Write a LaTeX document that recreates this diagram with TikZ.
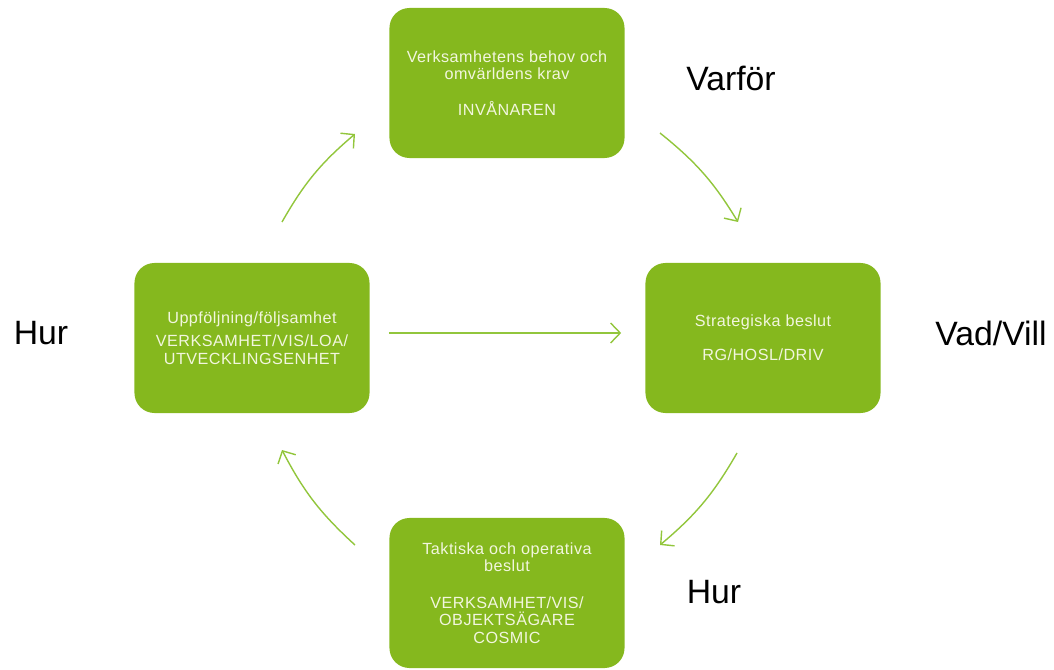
\documentclass[tikz,border=0pt]{standalone}
\usepackage{fontspec}
\setmainfont{Liberation Sans}
\newfontfamily\boxfont[LetterSpace=3]{Liberation Sans}
\usetikzlibrary{arrows.meta,positioning}

\definecolor{boxgreen}{RGB}{133,184,30}
\definecolor{arrowgreen}{RGB}{146,198,60}
\definecolor{boxtext}{RGB}{242,246,222}

\begin{document}
\begin{tikzpicture}[x=0.025cm,y=-0.025cm,
  stage/.style={fill=boxgreen, rounded corners=0.5cm, minimum width=5.875cm,
    minimum height=3.75cm, inner sep=0pt, text=boxtext, align=center,
    font=\boxfont\fontsize{11.5}{12.3}\selectfont},
  turn/.style={draw=arrowgreen, line width=1pt,
    -{Straight Barb[length=2.4mm,width=5mm]}},
  question/.style={font=\fontsize{24}{28}\selectfont}]

  \useasboundingbox (0,0) rectangle (1054,670);

  % the four stages
  \node[stage] (behov) at (507,83)
    {Verksamhetens behov och\\omvärldens krav\\[13pt]INVÅNAREN};
  \node[stage] (strategi) at (763,338)
    {Strategiska beslut\\[12pt]RG/HOSL/DRIV};
  \node[stage] (taktik) at (507,593)
    {Taktiska och operativa\\beslut\\[14pt]VERKSAMHET/VIS/\\OBJEKTSÄGARE\\COSMIC};
  \node[stage] (uppf) at (252,338)
    {Uppföljning/följsamhet\\[4.5pt]VERKSAMHET/VIS/LOA/\\UTVECKLINGSENHET};

  % questions
  \node[question] (varfor) at (731,78) {Varför};
  \node[question] (vadvill) at (991,333) {Vad/Vill};
  \node[question] (hurner) at (714,592) {Hur};
  \node[question] (hurvanster) at (41,333) {Hur};

  % ends of the cycle arrows
  \coordinate (ul-a) at (282,222);
  \coordinate (ul-b) at (355,134);
  \coordinate (ur-a) at (660,133);
  \coordinate (ur-b) at (738,222);
  \coordinate (lr-a) at (737,453);
  \coordinate (lr-b) at (660,545);
  \coordinate (ll-a) at (355,545);
  \coordinate (ll-b) at (282,450);

  \draw[turn] (ul-a) to[bend left=10] (ul-b);
  \draw[turn] (ur-a) to[bend left=10] (ur-b);
  \draw[turn] (lr-a) to[bend left=10] (lr-b);
  \draw[turn] (ll-a) to[bend left=10] (ll-b);

  % straight link across
  \draw[turn, shorten <=0.475cm, shorten >=0.6cm]
    ([yshift=0.125cm]uppf.east) -- ([yshift=0.125cm]strategi.west);

\end{tikzpicture}
\end{document}
